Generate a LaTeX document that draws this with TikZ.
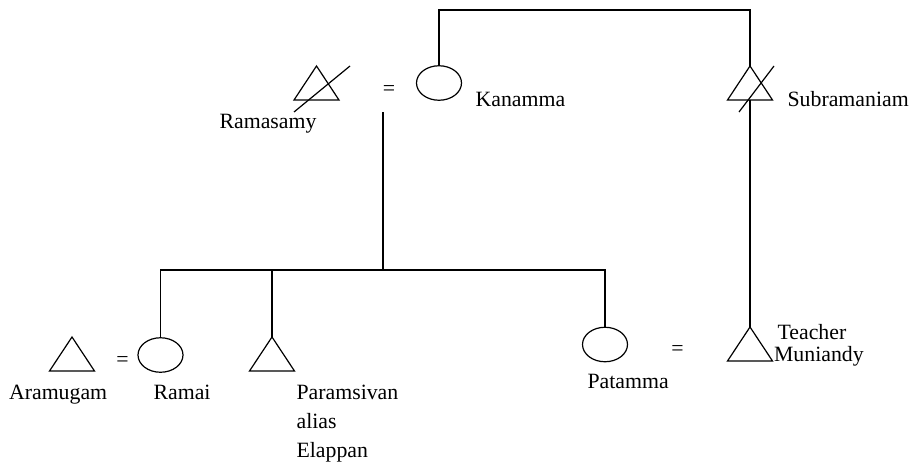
\documentclass[tikz,border=0pt]{standalone}
\usepackage{fontspec}
\setmainfont{Liberation Serif}
\usetikzlibrary{shapes.geometric}
\begin{document}
\begin{tikzpicture}[x=1pt,y=-1pt,line width=1.2pt,
  every node/.style={font=\fontsize{21.8}{26}\selectfont},
  lbl/.style={anchor=base west,inner sep=0pt},
  eq/.style={inner sep=0pt},
  fem/.style={draw,ellipse,inner sep=0pt,minimum width=45pt,minimum height=34.5pt}]
\useasboundingbox (0,0) rectangle (912,461);
% --- triangles (base centre coordinates) ---
\coordinate (ramB) at (316.5,100);
\coordinate (subB) at (750,100);
\coordinate (tmB) at (750,361);
\coordinate (araB) at (72,371);
\coordinate (parB) at (272,371);
\foreach \c in {ramB,subB,tmB,araB,parB}
  \draw (\c) ++(-22.5,0) -- ++(45,0) -- ++(-22.5,-34) -- cycle;
\coordinate (ramA) at (316.5,66);
\coordinate (subA) at (750,66);
\coordinate (tmA) at (750,327);
\coordinate (parA) at (272,337);
% slashes (deceased)
\coordinate (rs1) at (294,112); \coordinate (rs2) at (350,66);
\coordinate (ss1) at (739,112); \coordinate (ss2) at (774,66);
\draw (rs1) -- (rs2);
\draw (ss1) -- (ss2);
% --- ellipses ---
\node[fem] (kan) at (439,83) {};
\node[fem] (ramai) at (160.5,355) {};
\node[fem] (pat) at (605,344.5) {};
% --- equals signs ---
\node[eq] (eq1) at (389,91) {=};
\node[eq] (eq2) at (122.5,362) {=};
\node[eq] (eq3) at (677.5,350.5) {=};
% --- connectors ---
\coordinate (top) at (600,10);
\draw (kan.north) |- (top) -| (subA);
\draw (subB) -- (tmA);
\coordinate (desc) at (383,112);
\coordinate (sib) at (383,270);
\draw (desc) -- (sib);
\draw (ramai.north) |- (sib) -| (pat.north);
\draw (parA) -- (parA |- sib);
% --- labels ---
\node[lbl] (tRam) at (219,128) {Ramasamy};
\node[lbl] (tKan) at (475,106) {Kanamma};
\node[lbl] (tSub) at (787,106.5) {Subramaniam};
\node[lbl] (tAra) at (8.5,399) {Aramugam};
\node[lbl] (tRamai) at (153,399) {Ramai};
\node[lbl] (tPar1) at (296,399) {Paramsivan};
\node[lbl] (tPar2) at (296,428.5) {alias};
\node[lbl] (tPar3) at (296,457.5) {Elappan};
\node[lbl] (tPat) at (587,388) {Patamma};
\node[lbl] (tTea) at (777,339) {Teacher};
\node[lbl] (tMun) at (773.5,361.5) {Muniandy};
\end{tikzpicture}
\end{document}
